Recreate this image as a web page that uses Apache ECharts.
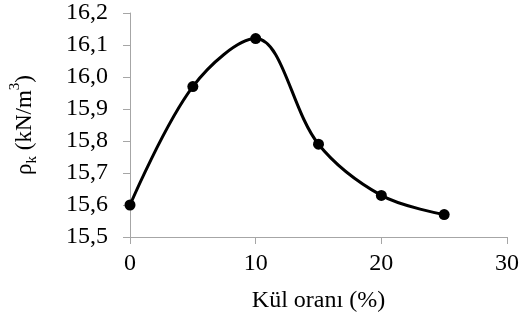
<!DOCTYPE html>
<html><head><meta charset="utf-8">
<script src="https://cdn.jsdelivr.net/npm/echarts@6/dist/echarts.min.js"></script>
<style>html,body{margin:0;padding:0;background:#fff}#c{width:522px;height:322px}</style>
</head><body><div id="c"></div>
<script>
const xValues = [0, 5, 10, 15, 20, 25];
const yValues = [15.60, 15.97, 16.12, 15.79, 15.63, 15.57];
const xName = 'Kül oranı (%)';
const font = 'Liberation Serif, Times New Roman, serif';
const chart = echarts.init(document.getElementById('c'));
chart.setOption({
  animation: false,
  grid: {left: 130, right: 15, top: 13, bottom: 85},
  xAxis: {
    type: 'value', min: 0, max: 30, interval: 10,
    name: xName, nameLocation: 'middle', nameGap: 52,
    nameTextStyle: {fontFamily: font, fontSize: 24, color: '#000'},
    axisLine: {show: true, lineStyle: {color: '#a6a6a6', width: 1}},
    axisTick: {show: true, length: 7, lineStyle: {color: '#a6a6a6'}},
    axisLabel: {fontFamily: font, fontSize: 24, color: '#000', margin: 15},
    splitLine: {show: false}
  },
  yAxis: {
    type: 'value', min: 15.5, max: 16.2, interval: 0.1,
    name: '{a|ρ}{sub|k}{a| (kN/m}{sup|3}{a|)}', nameLocation: 'middle', nameGap: 94, nameRotate: 90,
    nameTextStyle: {
      fontFamily: font, fontSize: 23, color: '#000',
      rich: {
        a: {fontFamily: font, fontSize: 23, color: '#000', lineHeight: 28, verticalAlign: 'bottom'},
        sub: {fontFamily: font, fontSize: 15, color: '#000', lineHeight: 28, verticalAlign: 'bottom', padding: [0, 0, -4, 0]},
        sup: {fontFamily: font, fontSize: 15, color: '#000', lineHeight: 28, verticalAlign: 'top'}
      }
    },
    axisLine: {show: true, lineStyle: {color: '#a6a6a6', width: 1}},
    axisTick: {show: true, length: 7, lineStyle: {color: '#a6a6a6'}},
    axisLabel: {fontFamily: font, fontSize: 24, color: '#000', margin: 22,
      formatter: v => v.toFixed(1).replace('.', ',')},
    splitLine: {show: false}
  },
  series: [{
    type: 'line', smooth: 0.35,
    data: xValues.map((x, i) => [x, yValues[i]]),
    symbol: 'circle', symbolSize: 11,
    itemStyle: {color: '#000'},
    lineStyle: {color: '#000', width: 3}
  }]
});
</script></body></html>
